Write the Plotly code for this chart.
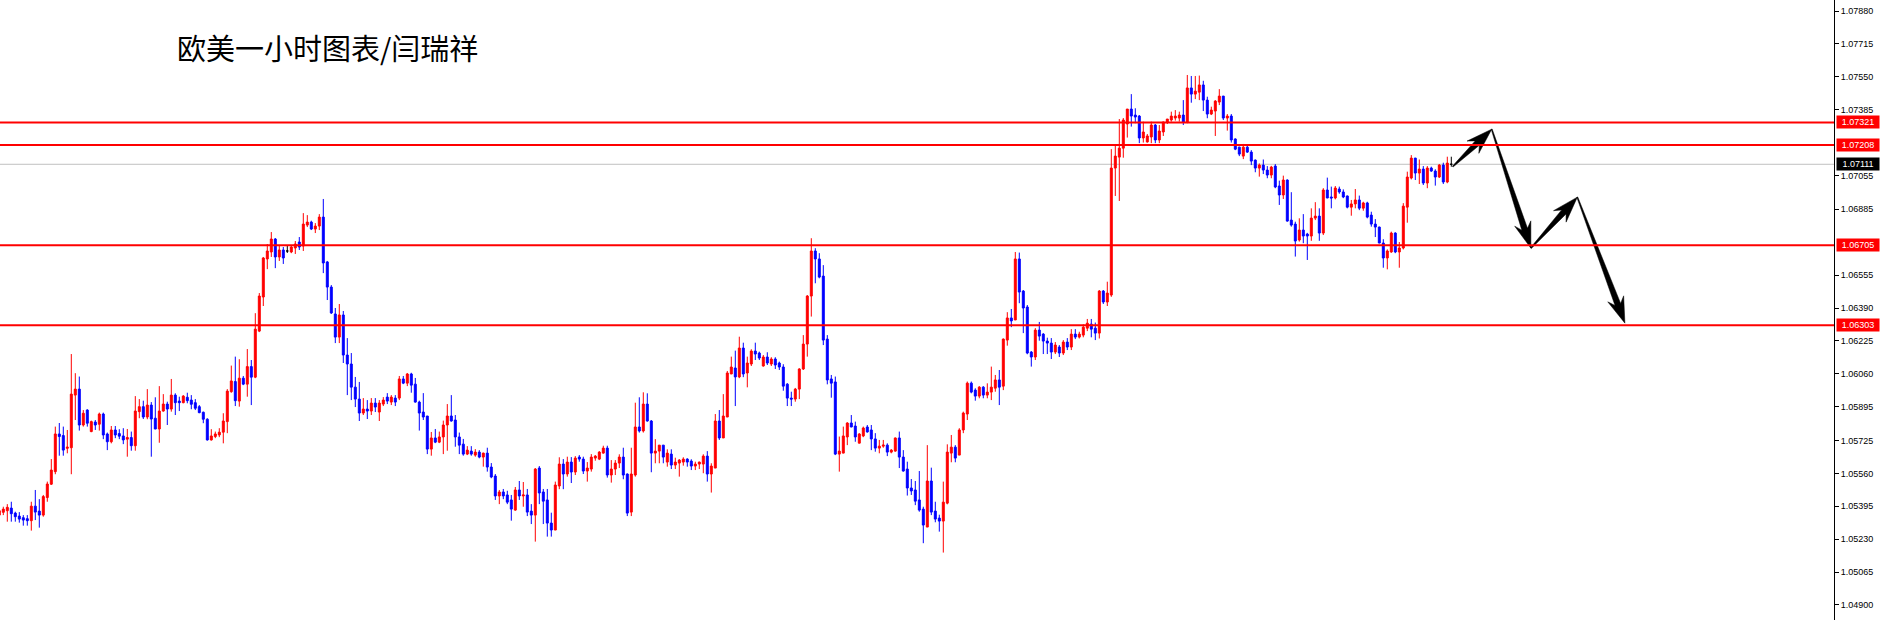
import math
import plotly.graph_objects as go

# ---------------- data (EURUSD 1H, prices in points: value / 1e5) ----------------
open_pts = [
105351,105365,105373,105386,105361,105346,105338,105333,105323,105396,
105371,105351,105439,105506,105569,105758,105750,105686,105689,105953,
105983,105803,105878,105770,105818,105807,105858,105758,105719,105778,
105760,105748,105732,105740,105699,105870,105895,105843,105903,105837,
105783,105873,105908,105883,105953,105923,105915,105942,105928,105915,
105895,105867,105832,105728,105745,105753,105767,105820,105970,106021,
105923,106038,106008,106096,106043,106274,106445,106636,106671,106736,
106646,106681,106676,106671,106691,106721,106701,106806,106821,106786,
106801,106846,106621,106495,106360,106244,106355,106154,106109,105993,
105933,105863,105883,105873,105913,105868,105908,105943,105918,105938,
105938,106034,106013,106059,106008,105918,105868,105848,105682,105738,
105717,105743,105803,105848,105828,105743,105707,105657,105672,105652,
105667,105642,105662,105592,105547,105447,105467,105452,105427,105376,
105477,105447,105452,105371,105351,105587,105467,105427,105311,105276,
105497,105607,105557,105617,105567,105642,105632,105572,105582,105637,
105632,105662,105687,105552,105582,105612,105642,105557,105366,105552,
105793,105773,105908,105823,105662,105672,105702,105617,105657,105602,
105612,105617,105632,105622,105597,105607,105607,105647,105557,105587,
105823,105738,105843,106059,106089,106044,106189,106064,106109,106174,
106164,106099,106144,106109,106134,106114,106094,106008,105938,105933,
105983,106084,106209,106450,106676,106636,106550,106234,106034,106019,
105657,105662,105743,105813,105798,105712,105748,105793,105778,105733,
105687,105697,105702,105667,105672,105738,105642,105582,105487,105477,
105427,105381,105291,105522,105371,105336,105321,105411,105662,105692,
105652,105778,105858,106013,105978,105948,105993,105953,105968,105988,
106029,105998,106229,106340,106330,106636,106475,106395,106169,106144,
106279,106259,106224,106214,106169,106194,106164,106219,106194,106259,
106244,106254,106289,106309,106289,106264,106475,106420,106455,107092,
107147,107192,107313,107388,107358,107353,107243,107223,107248,107308,
107233,107273,107323,107333,107343,107343,107358,107323,107494,107463,
107473,107509,107433,107363,107378,107423,107453,107343,107353,107238,
107197,107152,107197,107172,107132,107092,107107,107082,107057,107102,
107002,106957,107032,106831,106811,106731,106781,106761,106751,106841,
106851,106766,106982,106947,106942,106987,106972,106952,106896,106912,
106932,106891,106917,106856,106811,106796,106716,106641,106671,106766,
106671,106691,106896,107042,107142,107067,107087,107017,107092,107077,
107047,107107,107022,107111,
]
high_pts = [
105380,105393,105406,105418,105368,105366,105351,105351,105418,105477,
105431,105452,105519,105632,105795,105813,105795,105778,106159,106063,
106046,105878,105882,105825,105828,105865,105865,105765,105798,105798,
105782,105787,105783,105770,105948,105933,105925,105983,105918,105942,
105998,105958,105920,106034,105962,105945,105953,105965,105953,105933,
105903,105870,105837,105782,105770,105787,105862,105983,106101,106146,
106133,106049,106184,106129,106364,106465,106646,106711,106771,106741,
106701,106696,106706,106701,106726,106746,106866,106856,106828,106816,
106861,106937,106626,106505,106390,106410,106375,106239,106164,106044,
106019,105938,105928,105938,105938,105928,105943,105963,105953,105953,
106049,106049,106064,106065,106039,105925,105963,105848,105768,105783,
105770,105825,105908,105953,105853,105765,105733,105697,105697,105682,
105677,105664,105689,105612,105557,105477,105482,105473,105452,105492,
105522,105517,105482,105406,105587,105597,105482,105482,105363,105519,
105641,105632,105644,105642,105647,105652,105644,105617,105657,105652,
105672,105699,105699,105627,105627,105656,105689,105560,105689,105915,
105942,105967,105962,105828,105732,105702,105702,105681,105681,105639,
105632,105641,105636,105631,105619,105619,105656,105672,105611,105858,
105878,105958,106074,106146,106176,106246,106216,106146,106183,106216,
106171,106154,106168,106143,106143,106121,106108,106013,105970,105989,
106088,106254,106455,106740,106690,106665,106605,106254,106054,106046,
105745,105795,105817,105853,105820,105762,105795,105803,105803,105762,
105728,105728,105711,105682,105740,105770,105677,105619,105532,105522,
105572,105393,105702,105589,105418,105353,105519,105706,105753,105702,
105787,105870,106021,106021,105987,105998,105998,106012,106096,106054,
106079,106237,106369,106385,106671,106668,106480,106405,106174,106289,
106320,106264,106241,106239,106219,106204,106229,106239,106284,106284,
106271,106308,106335,106335,106317,106480,106480,106522,107187,107208,
107338,107343,107388,107463,107392,107358,107325,107263,107325,107313,
107308,107325,107338,107375,107383,107375,107433,107559,107554,107554,
107556,107530,107450,107400,107433,107488,107454,107363,107363,107241,
107199,107213,107208,107182,107135,107115,107135,107102,107103,107112,
107029,107054,107035,106971,106823,106840,106861,106767,106890,106921,
106890,106991,107044,106999,107002,106999,106985,106954,106932,106987,
106954,106923,106923,106873,106836,106798,106735,106684,106773,106770,
106721,106916,107074,107157,107143,107135,107102,107102,107099,107086,
107112,107119,107149,107149,
]
low_pts = [
105346,105351,105318,105318,105318,105313,105298,105298,105273,105326,
105288,105343,105418,105502,105556,105649,105649,105661,105556,105828,
105775,105795,105795,105767,105778,105775,105732,105677,105711,105737,
105732,105707,105644,105674,105674,105837,105833,105832,105644,105782,
105714,105870,105803,105870,105853,105873,105912,105912,105882,105878,
105862,105812,105725,105725,105737,105742,105711,105762,105965,105898,
105895,106003,105945,105903,106038,106269,106400,106585,106646,106590,
106626,106611,106666,106665,106661,106681,106676,106796,106781,106766,
106781,106565,106430,106360,106214,106214,106114,105953,105928,105893,
105823,105853,105833,105853,105868,105823,105898,105908,105903,105898,
105928,106008,105998,105965,105915,105775,105828,105657,105649,105712,
105712,105657,105674,105820,105694,105657,105649,105652,105649,105644,
105636,105594,105569,105536,105427,105406,105431,105406,105323,105373,
105427,105393,105346,105306,105218,105406,105306,105243,105243,105276,
105481,105481,105544,105512,105552,105619,105557,105519,105569,105624,
105627,105659,105539,105514,105552,105587,105531,105346,105346,105544,
105765,105765,105820,105566,105611,105611,105611,105594,105582,105582,
105544,105599,105594,105577,105577,105582,105561,105519,105464,105587,
105728,105738,105843,106059,105898,106038,106043,105992,106099,106129,
106129,106096,106104,106099,106084,106079,105975,105898,105898,105920,
105933,106079,106146,106347,106514,106539,106204,106007,105940,105652,
105569,105661,105702,105792,105719,105711,105742,105765,105677,105669,
105661,105689,105647,105661,105669,105587,105569,105449,105452,105401,
105368,105210,105291,105351,105315,105268,105163,105405,105616,105616,
105652,105762,105828,105962,105925,105937,105937,105937,105928,105970,
105903,105978,106201,106294,106330,106414,106264,106158,106096,106129,
106226,106159,106159,106134,106159,106144,106154,106179,106179,106234,
106237,106243,106274,106243,106229,106237,106410,106400,106446,106952,
106927,107144,107245,107300,107317,107217,107220,107220,107217,107217,
107217,107253,107313,107325,107330,107325,107308,107317,107420,107438,
107433,107378,107342,107358,107253,107408,107333,107280,107220,107182,
107152,107137,107168,107107,107071,107049,107062,107041,107041,106991,
106907,106937,106823,106798,106648,106723,106715,106631,106727,106831,
106727,106756,106941,106890,106935,106963,106941,106890,106853,106890,
106881,106878,106840,106798,106746,106715,106592,106584,106667,106665,
106592,106684,106818,107035,107032,107012,107007,106991,107073,107004,
107042,107012,107016,107099,
]
close_pts = [
105373,105381,105390,105358,105343,105331,105326,105323,105396,105366,
105351,105444,105507,105577,105758,105745,105677,105692,105958,105983,
105803,105862,105812,105820,105803,105858,105753,105719,105778,105753,
105747,105728,105740,105699,105873,105895,105843,105903,105833,105783,
105873,105908,105883,105953,105915,105915,105948,105925,105907,105887,
105865,105832,105728,105748,105758,105767,105823,105973,106024,105925,
106038,106008,106096,106043,106284,106450,106641,106676,106736,106646,
106681,106641,106676,106696,106711,106696,106811,106821,106786,106801,
106846,106616,106495,106365,106244,106355,106154,106109,105993,105933,
105863,105883,105873,105913,105893,105913,105928,105923,105943,105918,
106034,106013,106059,106003,105918,105863,105843,105682,105738,105717,
105743,105803,105848,105823,105743,105702,105657,105677,105657,105667,
105642,105662,105592,105542,105447,105467,105447,105416,105381,105477,
105447,105452,105366,105351,105582,105462,105421,105311,105276,105502,
105607,105557,105617,105567,105637,105632,105572,105587,105642,105647,
105667,105687,105552,105582,105612,105642,105552,105361,105557,105793,
105773,105908,105823,105662,105672,105702,105642,105662,105602,105617,
105627,105632,105617,105597,105607,105617,105647,105557,105597,105823,
105738,105848,106064,106094,106044,106189,106059,106114,106174,106159,
106139,106144,106114,106134,106104,106094,105998,105938,105933,105983,
106084,106209,106450,106676,106636,106545,106229,106029,106013,105657,
105672,105748,105813,105793,105743,105758,105788,105768,105733,105687,
105697,105702,105667,105677,105738,105642,105572,105487,105472,105421,
105376,105301,105522,105366,105331,105321,105416,105667,105692,105637,
105778,105863,106013,105968,105948,105993,105953,105968,105993,106029,
105993,106234,106340,106325,106636,106470,106390,106164,106144,106279,
106249,106224,106214,106169,106204,106164,106219,106194,106259,106244,
106259,106294,106314,106284,106264,106475,106420,106465,107092,107152,
107192,107333,107388,107353,107348,107243,107273,107253,107308,107233,
107278,107323,107338,107353,107353,107358,107323,107494,107463,107478,
107509,107433,107363,107383,107428,107453,107343,107353,107233,107187,
107162,107197,107172,107127,107092,107107,107082,107057,107097,106997,
106957,107032,106826,106806,106726,106781,106751,106751,106841,106851,
106766,106982,106942,106942,106992,106972,106947,106896,106912,106932,
106891,106917,106846,106811,106796,106716,106641,106676,106766,106671,
106691,106901,107047,107142,107067,107087,107017,107092,107077,107047,
107107,107022,107117,107111,
]

level_prices = [1.07321, 1.07208, 1.06705, 1.06303]
current_price = 1.07111
tick_values = [1.07880, 1.07715, 1.07550, 1.07385, 1.07055, 1.06885, 1.06555,
               1.06390, 1.06225, 1.06060, 1.05895, 1.05725, 1.05560, 1.05395,
               1.05230, 1.05065, 1.04900]
forecast_bar = [363.35, 373.1, 382.9, 394.5, 406.4]
forecast_price = [1.07099, 1.07287, 1.06690, 1.06946, 1.06314]
title_text = "欧美一小时图表/闫瑞祥"

# ---------------- build ----------------
SCALE = 1e5
o = [v / SCALE for v in open_pts]
h = [v / SCALE for v in high_pts]
l = [v / SCALE for v in low_pts]
c = [v / SCALE for v in close_pts]
idx = list(range(len(o)))
normal = [i for i in idx if open_pts[i] != close_pts[i]]
doji = [i for i in idx if open_pts[i] == close_pts[i]]

FIG_W, FIG_H = 1880, 620
M_R = 46
PLOT_W, PLOT_H = FIG_W - M_R, FIG_H
X0, X1 = 0.175, 458.675
Y0, Y1 = 1.048247, 1.079352
SX = PLOT_W / (X1 - X0)
SY = PLOT_H / (Y1 - Y0)

fig = go.Figure()
fig.add_trace(go.Candlestick(
    x=normal,
    open=[o[i] for i in normal], high=[h[i] for i in normal],
    low=[l[i] for i in normal], close=[c[i] for i in normal],
    increasing=dict(line=dict(color="#FF0000", width=1), fillcolor="#FF0000"),
    decreasing=dict(line=dict(color="#0000FF", width=1), fillcolor="#0000FF"),
    whiskerwidth=0, showlegend=False, hoverinfo="skip",
))
fig.add_trace(go.Candlestick(
    x=doji,
    open=[o[i] for i in doji], high=[h[i] for i in doji],
    low=[l[i] for i in doji], close=[c[i] for i in doji],
    increasing=dict(line=dict(color="#000000", width=1), fillcolor="#000000"),
    decreasing=dict(line=dict(color="#000000", width=1), fillcolor="#000000"),
    whiskerwidth=0, showlegend=False, hoverinfo="skip",
))

# forecast arrows (tapered shaft + head), built from the forecast path
def to_px(xv, yv):
    return (xv - X0) * SX, (Y1 - yv) * SY

def to_data(px, py):
    return X0 + px / SX, Y1 - py / SY

for k in range(len(forecast_bar) - 1):
    ax_, ay_ = to_px(forecast_bar[k], forecast_price[k])
    bx_, by_ = to_px(forecast_bar[k + 1], forecast_price[k + 1])
    dx, dy = bx_ - ax_, by_ - ay_
    L = math.hypot(dx, dy)
    ux, uy = dx / L, dy / L
    nx, ny = -uy, ux
    head_len, head_hw, neck_hw, tail_hw = 26, 8.5, 3.0, 0.5
    cx, cy = bx_ - ux * head_len, by_ - uy * head_len
    bx2, by2 = bx_ - ux * (head_len - 6), by_ - uy * (head_len - 6)
    pts = [
        (ax_ + nx * tail_hw, ay_ + ny * tail_hw),
        (bx2 + nx * neck_hw, by2 + ny * neck_hw),
        (cx + nx * head_hw, cy + ny * head_hw),
        (bx_, by_),
        (cx - nx * head_hw, cy - ny * head_hw),
        (bx2 - nx * neck_hw, by2 - ny * neck_hw),
        (ax_ - nx * tail_hw, ay_ - ny * tail_hw),
    ]
    dpts = [to_data(px, py) for px, py in pts]
    fig.add_trace(go.Scatter(
        x=[p[0] for p in dpts] + [dpts[0][0]],
        y=[p[1] for p in dpts] + [dpts[0][1]],
        mode="lines", fill="toself", fillcolor="#000000",
        line=dict(color="#000000", width=0.5),
        showlegend=False, hoverinfo="skip",
    ))

shapes = []
for p in level_prices:
    shapes.append(dict(type="line", xref="paper", x0=0, x1=1, yref="y", y0=p, y1=p,
                       line=dict(color="#FF0000", width=2)))
shapes.append(dict(type="line", xref="paper", x0=0, x1=1, yref="y",
                   y0=current_price, y1=current_price,
                   line=dict(color="#C0C0C0", width=1), layer="below"))

annotations = []
for p in level_prices:
    annotations.append(dict(xref="paper", x=1, xanchor="left", xshift=2,
                            yref="y", y=p, yanchor="middle",
                            text=f"{p:.5f}", showarrow=False,
                            bgcolor="#FF0000", width=40, height=10, borderpad=1,
                            font=dict(family="Liberation Sans", size=9, color="white")))
annotations.append(dict(xref="paper", x=1, xanchor="left", xshift=2,
                        yref="y", y=current_price, yanchor="middle",
                        text=f"{current_price:.5f}", showarrow=False,
                        bgcolor="#000000", width=40, height=10, borderpad=1,
                        font=dict(family="Liberation Sans", size=9, color="white")))
annotations.append(dict(xref="paper", x=175 / PLOT_W, xanchor="left",
                        yref="paper", y=1 - 47 / FIG_H, yanchor="middle",
                        text=title_text, showarrow=False,
                        font=dict(family="Noto Sans CJK SC", size=29, color="black")))

fig.update_layout(
    width=FIG_W, height=FIG_H,
    margin=dict(l=0, r=M_R, t=0, b=0),
    paper_bgcolor="white", plot_bgcolor="white",
    showlegend=False, boxgap=0.3, boxgroupgap=0.3,
    xaxis=dict(range=[X0, X1], visible=False, rangeslider=dict(visible=False)),
    yaxis=dict(range=[Y0, Y1], side="right", tickvals=tick_values, tickformat=".5f",
               ticks="outside", ticklen=4, tickcolor="black", tickwidth=1,
               showline=True, linecolor="black", linewidth=1,
               showgrid=False, zeroline=False,
               tickfont=dict(family="Liberation Sans", size=9, color="black")),
    shapes=shapes, annotations=annotations,
)

fig.write_html(
    "out.html",
    config={"displayModeBar": False},
    post_script="document.body.style.margin='0';document.body.style.overflow='hidden';",
)
